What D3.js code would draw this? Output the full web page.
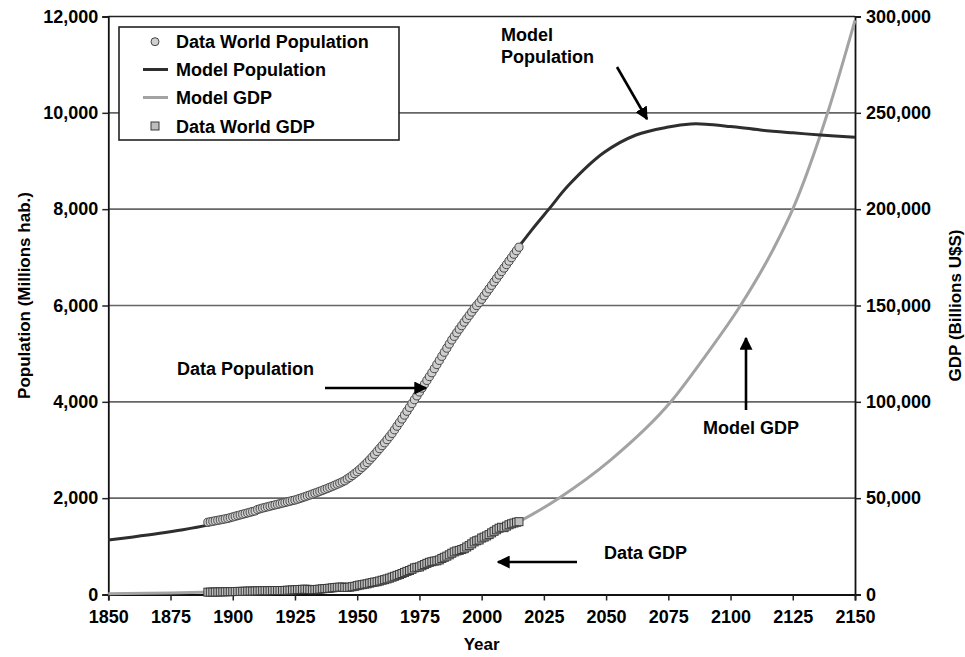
<!DOCTYPE html>
<html><head><meta charset="utf-8">
<script src="https://cdn.jsdelivr.net/npm/d3@7"></script>
<style>body{margin:0;background:#fff}svg text{font-family:"Liberation Sans",Arial,sans-serif;font-weight:bold;fill:#000}</style>
</head><body><svg id="c" width="965" height="657"></svg>
<script>
// ---- data ----
const popStartYear = 1890;
const popData = [1500,1510,1520,1530,1540,1550,1560,1570,1580,1595,
1610,1624,1638,1652,1666,1680,1694,1708,1722,1736,
1765,1780,1795,1808,1821,1834,1847,1860,1872,1885,
1898,1911,1924,1937,1950,1962,1978,1995,2012,2030,
2048,2066,2085,2104,2123,2142,2162,2182,2203,2224,
2246,2268,2291,2314,2338,2362,2400,2432,2470,2510,
2550,2595,2640,2690,2740,2795,2850,2910,2970,3030,
3090,3150,3215,3280,3345,3420,3495,3570,3645,3725,
3805,3885,3965,4045,4125,4205,4285,4365,4445,4525,
4605,4690,4775,4860,4945,5030,5115,5200,5285,5360,
5435,5510,5582,5654,5725,5795,5865,5935,6000,6060,
6130,6202,6274,6346,6418,6490,6562,6634,6706,6778,
6850,6922,6994,7066,7138,7210];
const gdpStartYear = 1890;
const gdpData = [1200,1230,1260,1280,1310,1350,1380,1410,1450,1490,
1520,1550,1580,1620,1650,1700,1750,1790,1780,1840,
1880,1920,1970,2020,1950,1970,2050,2060,2070,2050,
2080,2120,2200,2290,2360,2440,2520,2600,2680,2760,
2680,2580,2480,2540,2650,2780,2950,3080,3130,3280,
3450,3620,3720,3830,3880,3700,3650,3800,4050,4250,
4600,4900,5100,5350,5550,5900,6200,6450,6650,7000,
7400,7700,8100,8500,9000,9450,9950,10350,10900,11450,
12000,12450,13050,13800,14100,14300,14950,15550,16150,16700,
17050,17350,17500,17950,18700,19300,19900,20600,21400,22100,
22600,22900,23350,23800,24650,25400,26300,27300,27900,28300,
29300,29800,30400,31100,32000,32800,33600,34400,34900,34700,
35500,36200,36700,37100,37500,37800];
const modelPopYears = [1850,1860,1870,1880,1890,1900,1910,1920,1930,1940,1950,1960,1970,1980,1990,2000,2010,2020,2027,2035,2049,2062,2075,2084,2090,2100,2112,2125,2136,2150];
const modelPopValues = [1130,1195,1265,1345,1440,1560,1710,1880,2060,2280,2560,3040,3720,4560,5400,6140,6880,7560,8000,8500,9170,9540,9705,9768,9765,9715,9644,9585,9540,9493];
const modelGdpYears = [1850,1875,1900,1925,1950,1975,2000,2015,2031,2052,2076,2090,2104,2117,2125,2139,2150];
const modelGdpValues = [400,800,1500,2600,4800,14500,29000,37800,50000,70000,100000,124000,150000,178800,200000,250000,298000];
const xTicks = [1850,1875,1900,1925,1950,1975,2000,2025,2050,2075,2100,2125,2150];
const popTicks = [0,2000,4000,6000,8000,10000,12000];
const gdpTicks = [0,50000,100000,150000,200000,250000,300000];
const legendLabels = ["Data World Population","Model Population","Model GDP","Data World GDP"];

const popYears = popData.map((d,i)=>popStartYear+i);
const gdpYears = gdpData.map((d,i)=>gdpStartYear+i);

// ---- layout ----
const L=108.3, R=855, T=16.5, B=594.5;
const svg=d3.select("#c");
const x=d3.scaleLinear().domain([1850,2150]).range([L,R]);
const yP=d3.scaleLinear().domain([0,12000]).range([B,T]);
const yG=d3.scaleLinear().domain([0,300000]).range([B,T]);
const fmt=d3.format(",");

// gridlines
svg.append("g").selectAll("line").data(popTicks.filter(d=>d>0)).join("line")
 .attr("x1",L).attr("x2",R).attr("y1",d=>yP(d)).attr("y2",d=>yP(d))
 .attr("stroke",d=>d===12000?"#222":"#666").attr("stroke-width",1.6);

// axes
const axL=svg.append("g").attr("transform",`translate(${L},0)`)
 .call(d3.axisLeft(yP).tickValues(popTicks).tickFormat(fmt).tickSize(6).tickPadding(4));
const axR=svg.append("g").attr("transform",`translate(${R},0)`)
 .call(d3.axisRight(yG).tickValues(gdpTicks).tickFormat(fmt).tickSize(6).tickPadding(5));
const axB=svg.append("g").attr("transform",`translate(0,${B})`)
 .call(d3.axisBottom(x).tickValues(xTicks).tickFormat(d3.format("d")).tickSize(6).tickPadding(6));
[axL,axR,axB].forEach(a=>{
  a.selectAll("text").style("font-size","18px").attr("fill","#000");
  a.selectAll("line").attr("stroke","#222").attr("stroke-width",1.5);
  a.select(".domain").attr("stroke","#111").attr("stroke-width",1.8);
});
axB.selectAll("text").attr("dy","0.9em");

// model GDP line
svg.append("path").datum(modelGdpYears.map((y,i)=>[y,modelGdpValues[i]]))
 .attr("fill","none").attr("stroke","#a3a3a3").attr("stroke-width",3)
 .attr("d",d3.line().x(d=>x(d[0])).y(d=>yG(d[1])).curve(d3.curveMonotoneX));

// GDP squares
const s=8;
svg.append("g").selectAll("rect").data(gdpYears.map((y,i)=>[y,gdpData[i]])).join("rect")
 .attr("x",d=>x(d[0])-s/2).attr("y",d=>yG(d[1])-s/2).attr("width",s).attr("height",s)
 .attr("fill","#bdbdbd").attr("stroke","#3a3a3a").attr("stroke-width",1);

// model pop line
svg.append("path").datum(modelPopYears.map((y,i)=>[y,modelPopValues[i]]))
 .attr("fill","none").attr("stroke","#2e2e2e").attr("stroke-width",3)
 .attr("d",d3.line().x(d=>x(d[0])).y(d=>yP(d[1])).curve(d3.curveCatmullRom.alpha(0.5)));

// pop circles
svg.append("g").selectAll("circle").data(popYears.map((y,i)=>[y,popData[i]])).join("circle")
 .attr("cx",d=>x(d[0])).attr("cy",d=>yP(d[1])).attr("r",4.1)
 .attr("fill","#cfcfcf").attr("stroke","#4a4a4a").attr("stroke-width",1);

// axis titles
svg.append("text").attr("transform",`translate(30,${(T+B)/2-10}) rotate(-90)`).attr("text-anchor","middle").style("font-size","17px").text("Population (Millions hab.)");
svg.append("text").attr("transform",`translate(961,${(T+B)/2}) rotate(-90)`).attr("text-anchor","middle").style("font-size","17px").text("GDP (Billions U$S)");
svg.append("text").attr("x",(L+R)/2).attr("y",650).attr("text-anchor","middle").style("font-size","17px").text("Year");

// arrows
const defs=svg.append("defs");
defs.append("marker").attr("id","ah").attr("viewBox","0 0 10 10").attr("refX",9).attr("refY",5)
 .attr("markerWidth",5).attr("markerHeight",5).attr("orient","auto").attr("markerUnits","strokeWidth")
 .append("path").attr("d","M0,0L10,5L0,10z").attr("fill","#000");
const arrows=[[617,67,647,119],[325,388,426,388],[577,562,498,562],[746,410,746,338]];
svg.append("g").selectAll("line").data(arrows).join("line")
 .attr("x1",d=>d[0]).attr("y1",d=>d[1]).attr("x2",d=>d[2]).attr("y2",d=>d[3])
 .attr("stroke","#000").attr("stroke-width",2.6).attr("marker-end","url(#ah)");

// annotations
const ann=[["Model",501,41],["Population",501,63],["Data Population",177,375],["Data GDP",604,559],["Model GDP",703,434]];
svg.append("g").selectAll("text").data(ann).join("text").attr("x",d=>d[1]).attr("y",d=>d[2]).style("font-size","18px").text(d=>d[0]);

// legend
const lg=svg.append("g");
lg.append("rect").attr("x",119).attr("y",27).attr("width",280).attr("height",113).attr("fill","#fff").attr("stroke","#222").attr("stroke-width",1.6);
const rows=[41.7,69.5,97.5,126];
lg.append("circle").attr("cx",155).attr("cy",rows[0]).attr("r",4).attr("fill","#cfcfcf").attr("stroke","#444");
lg.append("line").attr("x1",143).attr("x2",168).attr("y1",rows[1]).attr("y2",rows[1]).attr("stroke","#2e2e2e").attr("stroke-width",3);
lg.append("line").attr("x1",143).attr("x2",168).attr("y1",rows[2]).attr("y2",rows[2]).attr("stroke","#a3a3a3").attr("stroke-width",3);
lg.append("rect").attr("x",151).attr("y",rows[3]-4).attr("width",8).attr("height",8).attr("fill","#bdbdbd").attr("stroke","#3a3a3a");
lg.selectAll("text.l").data(legendLabels).join("text").attr("class","l")
 .attr("x",176).attr("y",(d,i)=>rows[i]+6.5).style("font-size","18px").text(d=>d);
</script></body></html>
